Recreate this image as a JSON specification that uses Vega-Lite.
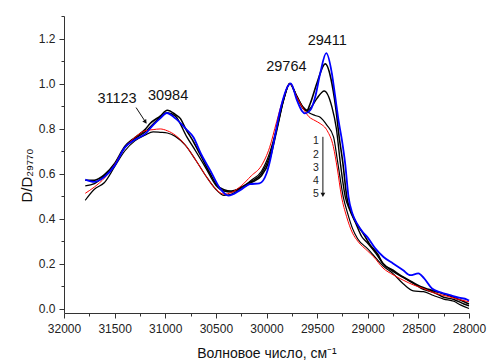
{
  "$schema": "https://vega.github.io/schema/vega-lite/v6.json",
  "width": 405,
  "height": 297,
  "autosize": {"type": "none"},
  "padding": {"left": 64, "top": 16, "right": 18, "bottom": 48},
  "background": "white",
  "config": {
    "view": {"stroke": null},
    "font": "Liberation Sans",
    "axis": {
      "domainColor": "#333333",
      "tickColor": "#333333",
      "labelColor": "#222222",
      "titleColor": "#111111",
      "labelFont": "Liberation Sans",
      "titleFont": "Liberation Sans",
      "labelFontSize": 12,
      "grid": false,
      "labelOverlap": false,
      "labelFlush": false,
      "titleFontWeight": "normal"
    }
  },
  "datasets": {
    "spectra": [
      {"curve": "2", "wn": 31790, "d": 0.57}, {"curve": "2", "wn": 31700, "d": 0.57}, {"curve": "2", "wn": 31600, "d": 0.595}, {"curve": "2", "wn": 31500, "d": 0.645}, {"curve": "2", "wn": 31400, "d": 0.72}, {"curve": "2", "wn": 31300, "d": 0.76}, {"curve": "2", "wn": 31200, "d": 0.795}, {"curve": "2", "wn": 31150, "d": 0.822}, {"curve": "2", "wn": 31050, "d": 0.855}, {"curve": "2", "wn": 30980, "d": 0.881}, {"curve": "2", "wn": 30900, "d": 0.862}, {"curve": "2", "wn": 30850, "d": 0.844}, {"curve": "2", "wn": 30800, "d": 0.80}, {"curve": "2", "wn": 30720, "d": 0.74}, {"curve": "2", "wn": 30650, "d": 0.68}, {"curve": "2", "wn": 30557, "d": 0.60}, {"curve": "2", "wn": 30500, "d": 0.555}, {"curve": "2", "wn": 30420, "d": 0.528}, {"curve": "2", "wn": 30350, "d": 0.522}, {"curve": "2", "wn": 30250, "d": 0.535}, {"curve": "2", "wn": 30150, "d": 0.56}, {"curve": "2", "wn": 30050, "d": 0.59}, {"curve": "2", "wn": 29970, "d": 0.66}, {"curve": "2", "wn": 29900, "d": 0.79}, {"curve": "2", "wn": 29830, "d": 0.93}, {"curve": "2", "wn": 29770, "d": 1.0}, {"curve": "2", "wn": 29700, "d": 0.94}, {"curve": "2", "wn": 29640, "d": 0.895}, {"curve": "2", "wn": 29600, "d": 0.881}, {"curve": "2", "wn": 29568, "d": 0.911}, {"curve": "2", "wn": 29503, "d": 1.0}, {"curve": "2", "wn": 29420, "d": 1.087}, {"curve": "2", "wn": 29354, "d": 1.0}, {"curve": "2", "wn": 29305, "d": 0.852}, {"curve": "2", "wn": 29290, "d": 0.79}, {"curve": "2", "wn": 29245, "d": 0.644}, {"curve": "2", "wn": 29207, "d": 0.496}, {"curve": "2", "wn": 29150, "d": 0.415}, {"curve": "2", "wn": 29100, "d": 0.37}, {"curve": "2", "wn": 29040, "d": 0.33}, {"curve": "2", "wn": 28980, "d": 0.285}, {"curve": "2", "wn": 28900, "d": 0.24}, {"curve": "2", "wn": 28850, "d": 0.2}, {"curve": "2", "wn": 28750, "d": 0.17}, {"curve": "2", "wn": 28650, "d": 0.14}, {"curve": "2", "wn": 28550, "d": 0.115}, {"curve": "2", "wn": 28480, "d": 0.098}, {"curve": "2", "wn": 28400, "d": 0.085}, {"curve": "2", "wn": 28300, "d": 0.072}, {"curve": "2", "wn": 28200, "d": 0.058}, {"curve": "2", "wn": 28100, "d": 0.04}, {"curve": "2", "wn": 28000, "d": 0.02},
      {"curve": "3", "wn": 31790, "d": 0.545}, {"curve": "3", "wn": 31700, "d": 0.555}, {"curve": "3", "wn": 31600, "d": 0.59}, {"curve": "3", "wn": 31500, "d": 0.64}, {"curve": "3", "wn": 31400, "d": 0.715}, {"curve": "3", "wn": 31300, "d": 0.755}, {"curve": "3", "wn": 31200, "d": 0.785}, {"curve": "3", "wn": 31120, "d": 0.82}, {"curve": "3", "wn": 31050, "d": 0.85}, {"curve": "3", "wn": 30980, "d": 0.87}, {"curve": "3", "wn": 30900, "d": 0.855}, {"curve": "3", "wn": 30787, "d": 0.763}, {"curve": "3", "wn": 30700, "d": 0.70}, {"curve": "3", "wn": 30600, "d": 0.625}, {"curve": "3", "wn": 30500, "d": 0.548}, {"curve": "3", "wn": 30420, "d": 0.522}, {"curve": "3", "wn": 30350, "d": 0.518}, {"curve": "3", "wn": 30250, "d": 0.54}, {"curve": "3", "wn": 30150, "d": 0.565}, {"curve": "3", "wn": 30050, "d": 0.60}, {"curve": "3", "wn": 29970, "d": 0.675}, {"curve": "3", "wn": 29900, "d": 0.795}, {"curve": "3", "wn": 29830, "d": 0.93}, {"curve": "3", "wn": 29770, "d": 1.0}, {"curve": "3", "wn": 29700, "d": 0.94}, {"curve": "3", "wn": 29640, "d": 0.89}, {"curve": "3", "wn": 29600, "d": 0.878}, {"curve": "3", "wn": 29568, "d": 0.889}, {"curve": "3", "wn": 29503, "d": 0.933}, {"curve": "3", "wn": 29430, "d": 0.967}, {"curve": "3", "wn": 29354, "d": 0.896}, {"curve": "3", "wn": 29310, "d": 0.80}, {"curve": "3", "wn": 29270, "d": 0.644}, {"curve": "3", "wn": 29222, "d": 0.496}, {"curve": "3", "wn": 29180, "d": 0.44}, {"curve": "3", "wn": 29120, "d": 0.38}, {"curve": "3", "wn": 29060, "d": 0.32}, {"curve": "3", "wn": 29000, "d": 0.29}, {"curve": "3", "wn": 28920, "d": 0.245}, {"curve": "3", "wn": 28850, "d": 0.2}, {"curve": "3", "wn": 28750, "d": 0.165}, {"curve": "3", "wn": 28650, "d": 0.138}, {"curve": "3", "wn": 28550, "d": 0.112}, {"curve": "3", "wn": 28450, "d": 0.085}, {"curve": "3", "wn": 28350, "d": 0.072}, {"curve": "3", "wn": 28250, "d": 0.05}, {"curve": "3", "wn": 28150, "d": 0.04}, {"curve": "3", "wn": 28050, "d": 0.02}, {"curve": "3", "wn": 28000, "d": 0.012},
      {"curve": "4", "wn": 31790, "d": 0.481}, {"curve": "4", "wn": 31700, "d": 0.53}, {"curve": "4", "wn": 31600, "d": 0.56}, {"curve": "4", "wn": 31500, "d": 0.63}, {"curve": "4", "wn": 31400, "d": 0.70}, {"curve": "4", "wn": 31300, "d": 0.745}, {"curve": "4", "wn": 31200, "d": 0.77}, {"curve": "4", "wn": 31120, "d": 0.785}, {"curve": "4", "wn": 31050, "d": 0.783}, {"curve": "4", "wn": 30980, "d": 0.78}, {"curve": "4", "wn": 30900, "d": 0.765}, {"curve": "4", "wn": 30800, "d": 0.725}, {"curve": "4", "wn": 30700, "d": 0.66}, {"curve": "4", "wn": 30600, "d": 0.59}, {"curve": "4", "wn": 30500, "d": 0.53}, {"curve": "4", "wn": 30420, "d": 0.503}, {"curve": "4", "wn": 30350, "d": 0.508}, {"curve": "4", "wn": 30250, "d": 0.535}, {"curve": "4", "wn": 30150, "d": 0.57}, {"curve": "4", "wn": 30050, "d": 0.61}, {"curve": "4", "wn": 29970, "d": 0.69}, {"curve": "4", "wn": 29900, "d": 0.80}, {"curve": "4", "wn": 29830, "d": 0.93}, {"curve": "4", "wn": 29770, "d": 1.0}, {"curve": "4", "wn": 29700, "d": 0.945}, {"curve": "4", "wn": 29640, "d": 0.895}, {"curve": "4", "wn": 29580, "d": 0.87}, {"curve": "4", "wn": 29520, "d": 0.858}, {"curve": "4", "wn": 29470, "d": 0.85}, {"curve": "4", "wn": 29404, "d": 0.815}, {"curve": "4", "wn": 29338, "d": 0.763}, {"curve": "4", "wn": 29300, "d": 0.66}, {"curve": "4", "wn": 29242, "d": 0.496}, {"curve": "4", "wn": 29200, "d": 0.425}, {"curve": "4", "wn": 29150, "d": 0.355}, {"curve": "4", "wn": 29100, "d": 0.31}, {"curve": "4", "wn": 29000, "d": 0.265}, {"curve": "4", "wn": 28940, "d": 0.235}, {"curve": "4", "wn": 28850, "d": 0.19}, {"curve": "4", "wn": 28750, "d": 0.155}, {"curve": "4", "wn": 28650, "d": 0.11}, {"curve": "4", "wn": 28550, "d": 0.078}, {"curve": "4", "wn": 28450, "d": 0.075}, {"curve": "4", "wn": 28350, "d": 0.058}, {"curve": "4", "wn": 28250, "d": 0.042}, {"curve": "4", "wn": 28150, "d": 0.032}, {"curve": "4", "wn": 28080, "d": 0.015}, {"curve": "4", "wn": 28000, "d": 0.0},
      {"curve": "5", "wn": 31790, "d": 0.512}, {"curve": "5", "wn": 31700, "d": 0.54}, {"curve": "5", "wn": 31600, "d": 0.58}, {"curve": "5", "wn": 31500, "d": 0.64}, {"curve": "5", "wn": 31400, "d": 0.715}, {"curve": "5", "wn": 31300, "d": 0.76}, {"curve": "5", "wn": 31200, "d": 0.79}, {"curve": "5", "wn": 31120, "d": 0.795}, {"curve": "5", "wn": 31050, "d": 0.798}, {"curve": "5", "wn": 30980, "d": 0.79}, {"curve": "5", "wn": 30900, "d": 0.77}, {"curve": "5", "wn": 30800, "d": 0.725}, {"curve": "5", "wn": 30700, "d": 0.66}, {"curve": "5", "wn": 30600, "d": 0.59}, {"curve": "5", "wn": 30500, "d": 0.53}, {"curve": "5", "wn": 30420, "d": 0.508}, {"curve": "5", "wn": 30350, "d": 0.515}, {"curve": "5", "wn": 30250, "d": 0.545}, {"curve": "5", "wn": 30150, "d": 0.59}, {"curve": "5", "wn": 30050, "d": 0.635}, {"curve": "5", "wn": 29970, "d": 0.715}, {"curve": "5", "wn": 29900, "d": 0.83}, {"curve": "5", "wn": 29830, "d": 0.94}, {"curve": "5", "wn": 29770, "d": 1.0}, {"curve": "5", "wn": 29700, "d": 0.94}, {"curve": "5", "wn": 29640, "d": 0.89}, {"curve": "5", "wn": 29580, "d": 0.852}, {"curve": "5", "wn": 29520, "d": 0.835}, {"curve": "5", "wn": 29470, "d": 0.822}, {"curve": "5", "wn": 29400, "d": 0.79}, {"curve": "5", "wn": 29340, "d": 0.72}, {"curve": "5", "wn": 29300, "d": 0.62}, {"curve": "5", "wn": 29260, "d": 0.50}, {"curve": "5", "wn": 29210, "d": 0.41}, {"curve": "5", "wn": 29150, "d": 0.335}, {"curve": "5", "wn": 29100, "d": 0.30}, {"curve": "5", "wn": 29000, "d": 0.255}, {"curve": "5", "wn": 28940, "d": 0.229}, {"curve": "5", "wn": 28850, "d": 0.18}, {"curve": "5", "wn": 28750, "d": 0.15}, {"curve": "5", "wn": 28650, "d": 0.126}, {"curve": "5", "wn": 28550, "d": 0.105}, {"curve": "5", "wn": 28450, "d": 0.089}, {"curve": "5", "wn": 28350, "d": 0.07}, {"curve": "5", "wn": 28220, "d": 0.055}, {"curve": "5", "wn": 28100, "d": 0.04}, {"curve": "5", "wn": 28000, "d": 0.03},
      {"curve": "1", "wn": 31790, "d": 0.573}, {"curve": "1", "wn": 31700, "d": 0.563}, {"curve": "1", "wn": 31600, "d": 0.585}, {"curve": "1", "wn": 31500, "d": 0.635}, {"curve": "1", "wn": 31400, "d": 0.715}, {"curve": "1", "wn": 31300, "d": 0.75}, {"curve": "1", "wn": 31200, "d": 0.775}, {"curve": "1", "wn": 31120, "d": 0.815}, {"curve": "1", "wn": 31050, "d": 0.845}, {"curve": "1", "wn": 30985, "d": 0.869}, {"curve": "1", "wn": 30900, "d": 0.845}, {"curve": "1", "wn": 30800, "d": 0.80}, {"curve": "1", "wn": 30720, "d": 0.76}, {"curve": "1", "wn": 30650, "d": 0.69}, {"curve": "1", "wn": 30557, "d": 0.615}, {"curve": "1", "wn": 30458, "d": 0.533}, {"curve": "1", "wn": 30376, "d": 0.502}, {"curve": "1", "wn": 30260, "d": 0.526}, {"curve": "1", "wn": 30162, "d": 0.553}, {"curve": "1", "wn": 30070, "d": 0.556}, {"curve": "1", "wn": 30000, "d": 0.60}, {"curve": "1", "wn": 29964, "d": 0.659}, {"curve": "1", "wn": 29931, "d": 0.733}, {"curve": "1", "wn": 29865, "d": 0.881}, {"curve": "1", "wn": 29783, "d": 0.992}, {"curve": "1", "wn": 29760, "d": 1.0}, {"curve": "1", "wn": 29700, "d": 0.926}, {"curve": "1", "wn": 29650, "d": 0.878}, {"curve": "1", "wn": 29620, "d": 0.867}, {"curve": "1", "wn": 29568, "d": 0.881}, {"curve": "1", "wn": 29519, "d": 0.94}, {"curve": "1", "wn": 29470, "d": 1.044}, {"curve": "1", "wn": 29410, "d": 1.135}, {"curve": "1", "wn": 29354, "d": 1.044}, {"curve": "1", "wn": 29321, "d": 0.94}, {"curve": "1", "wn": 29289, "d": 0.837}, {"curve": "1", "wn": 29255, "d": 0.748}, {"curve": "1", "wn": 29223, "d": 0.644}, {"curve": "1", "wn": 29190, "d": 0.496}, {"curve": "1", "wn": 29150, "d": 0.42}, {"curve": "1", "wn": 29107, "d": 0.378}, {"curve": "1", "wn": 29050, "d": 0.34}, {"curve": "1", "wn": 29000, "d": 0.315}, {"curve": "1", "wn": 28926, "d": 0.267}, {"curve": "1", "wn": 28844, "d": 0.229}, {"curve": "1", "wn": 28750, "d": 0.2}, {"curve": "1", "wn": 28650, "d": 0.17}, {"curve": "1", "wn": 28580, "d": 0.148}, {"curve": "1", "wn": 28500, "d": 0.156}, {"curve": "1", "wn": 28445, "d": 0.135}, {"curve": "1", "wn": 28366, "d": 0.089}, {"curve": "1", "wn": 28280, "d": 0.072}, {"curve": "1", "wn": 28185, "d": 0.059}, {"curve": "1", "wn": 28100, "d": 0.048}, {"curve": "1", "wn": 28020, "d": 0.04}, {"curve": "1", "wn": 28000, "d": 0.035}
    ],
    "peaks": [
      {"wn": 31476, "d": 0.933, "label": "31123"},
      {"wn": 30972, "d": 0.945, "label": "30984"},
      {"wn": 29804, "d": 1.074, "label": "29764"},
      {"wn": 29400, "d": 1.188, "label": "29411"}
    ],
    "order": [
      {"wn": 29512, "d": 0.744, "label": "1"},
      {"wn": 29512, "d": 0.684, "label": "2"},
      {"wn": 29512, "d": 0.625, "label": "3"},
      {"wn": 29512, "d": 0.566, "label": "4"},
      {"wn": 29512, "d": 0.507, "label": "5"}
    ],
    "arrows": [
      {"wn": 31288, "d": 0.893, "wn2": 31192, "d2": 0.827},
      {"wn": 29443, "d": 0.763, "wn2": 29443, "d2": 0.505}
    ],
    "headOblique": [{"wn": 31196, "d": 0.829}],
    "headDown": [{"wn": 29443, "d": 0.505}]
  },
  "encoding": {
    "x": {
      "field": "wn", "type": "quantitative",
      "scale": {"domain": [28000, 32000], "reverse": true, "nice": false, "zero": false},
      "axis": {
        "title": "Волновое число, см⁻¹",
        "titleFontSize": 14,
        "titleY": 44,
        "titleBaseline": "alphabetic",
        "values": [32000, 31750, 31500, 31250, 31000, 30750, 30500, 30250, 30000, 29750, 29500, 29250, 29000, 28750, 28500, 28250, 28000],
        "format": "d",
        "labelExpr": "datum.value % 500 === 0 ? datum.label : ''",
        "tickSize": {"condition": {"test": "datum.value % 500 !== 0", "value": 3}, "value": 5},
        "labelPadding": 5
      }
    },
    "y": {
      "field": "d", "type": "quantitative",
      "scale": {"domain": [-0.02, 1.3], "nice": false, "zero": false},
      "axis": {
        "title": "D/D₂₉₇₇₀",
        "titleFontSize": 15,
        "titleX": -33,
        "titleY": 159,
        "titleAngle": -90,
        "titleAlign": "center",
        "titleBaseline": "alphabetic",
        "values": [0, 0.1, 0.2, 0.3, 0.4, 0.5, 0.6, 0.7, 0.8, 0.9, 1.0, 1.1, 1.2, 1.3],
        "labelExpr": "round(datum.value * 10) % 2 === 0 ? format(datum.value, '.1f') : ''",
        "tickSize": {"condition": {"test": "round(datum.value * 10) % 2 === 1", "value": 3}, "value": 5},
        "labelPadding": 4
      }
    }
  },
  "layer": [
    {
      "data": {"name": "spectra"},
      "mark": {"type": "line", "interpolate": "monotone"},
      "encoding": {
        "color": {"field": "curve", "type": "nominal", "scale": {"domain": ["1", "2", "3", "4", "5"], "range": ["#0000ff", "#000000", "#000000", "#000000", "#ff0000"]}, "legend": null},
        "strokeWidth": {"field": "curve", "type": "nominal", "scale": {"domain": ["1", "2", "3", "4", "5"], "range": [1.8, 1, 1, 1, 1.6]}, "legend": null},
        "order": {"value": 0}
      }
    },
    {
      "data": {"name": "peaks"},
      "mark": {"type": "text", "fontSize": 14.5, "font": "Liberation Sans", "color": "#111111", "align": "center", "baseline": "middle"},
      "encoding": {"text": {"field": "label"}}
    },
    {
      "data": {"name": "order"},
      "mark": {"type": "text", "fontSize": 10.5, "font": "Liberation Sans", "color": "#222222", "align": "center", "baseline": "middle"},
      "encoding": {"text": {"field": "label"}}
    },
    {
      "data": {"name": "arrows"},
      "mark": {"type": "rule", "color": "#111111", "strokeWidth": 1},
      "encoding": {"x2": {"field": "wn2"}, "y2": {"field": "d2"}}
    },
    {
      "data": {"name": "headOblique"},
      "mark": {"type": "point", "shape": "triangle-down", "filled": true, "color": "#111111", "size": 22, "angle": 326, "opacity": 1},
      "encoding": {}
    },
    {
      "data": {"name": "headDown"},
      "mark": {"type": "point", "shape": "triangle-down", "filled": true, "color": "#111111", "size": 22, "opacity": 1},
      "encoding": {}
    }
  ]
}
